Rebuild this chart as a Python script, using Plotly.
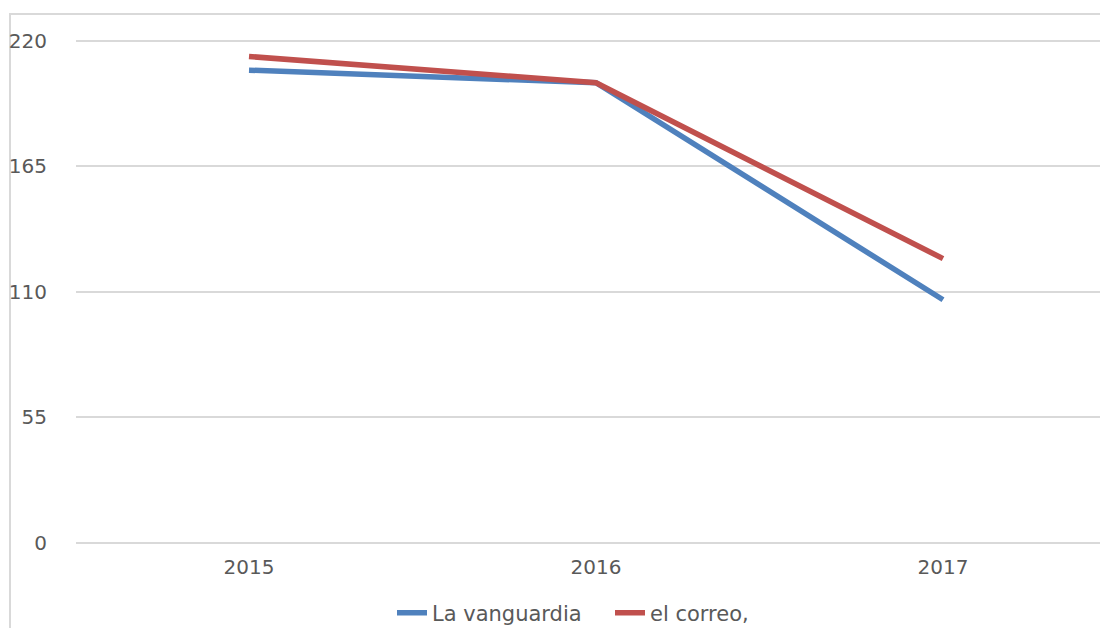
import plotly.graph_objects as go

years = ["2015", "2016", "2017"]
la_vanguardia = [207, 201.5, 106.5]
el_correo = [213, 201.5, 124.5]
y_ticks = [0, 55, 110, 165, 220]

# page has an 8px body margin, so the figure is drawn at (8, 8)
OFF = 8
W, H = 1108 - OFF, 628 - OFF
ml, mr, mt, mb = 68, 0, 28, 80
pw, ph = W - ml - mr, H - mt - mb

# x mapping (page px): category 0 at 249, category spacing 347
x_left = -(249 - (OFF + ml)) / 347.0
x_right = x_left + pw / 347.0

# y mapping (page px): value 0 at 543, value 220 at 40.5
unit = (543 - 40.5) / 220.0
y_top = 220 + ((40.5 - OFF) - mt) / unit
y_bot = y_top - ph / unit


def px_x(p):
    return (p - OFF - ml) / pw


def px_y(p):
    return (H - mb - (p - OFF)) / ph


fig = go.Figure()
fig.add_trace(go.Scatter(x=years, y=la_vanguardia, mode="lines", name="La vanguardia",
                         line=dict(color="#4f81bd", width=5.5)))
fig.add_trace(go.Scatter(x=years, y=el_correo, mode="lines", name="el correo,",
                         line=dict(color="#c0504d", width=5.5)))

fig.update_layout(
    width=W, height=H,
    margin=dict(l=ml, r=mr, t=mt, b=mb, pad=0, autoexpand=False),
    paper_bgcolor="white", plot_bgcolor="white",
    font=dict(family="DejaVu Sans", size=20, color="#595959"),
    xaxis=dict(type="category", range=[x_left, x_right], showgrid=False, showline=False,
               zeroline=False, ticks="", ticklabelstandoff=5, automargin=False),
    yaxis=dict(range=[y_bot, y_top], tickvals=y_ticks, showgrid=True, gridcolor="#d9d9d9",
               gridwidth=2, zeroline=True, zerolinecolor="#d9d9d9", zerolinewidth=2,
               showline=False, ticks="", ticklabelstandoff=28, automargin=False),
    legend=dict(orientation="h", xref="container", yref="container",
                x=(610 - OFF) / W, xanchor="center",
                y=1 - (613 - OFF) / H, yanchor="middle", entrywidth=173,
                font=dict(size=21, color="#595959")),
    shapes=[dict(type="rect", xref="paper", yref="paper",
                 x0=px_x(10), x1=px_x(1160), y0=px_y(700), y1=px_y(14),
                 line=dict(color="#d9d9d9", width=2), fillcolor="rgba(0,0,0,0)",
                 layer="below")],
)

fig.write_html("out.html")
